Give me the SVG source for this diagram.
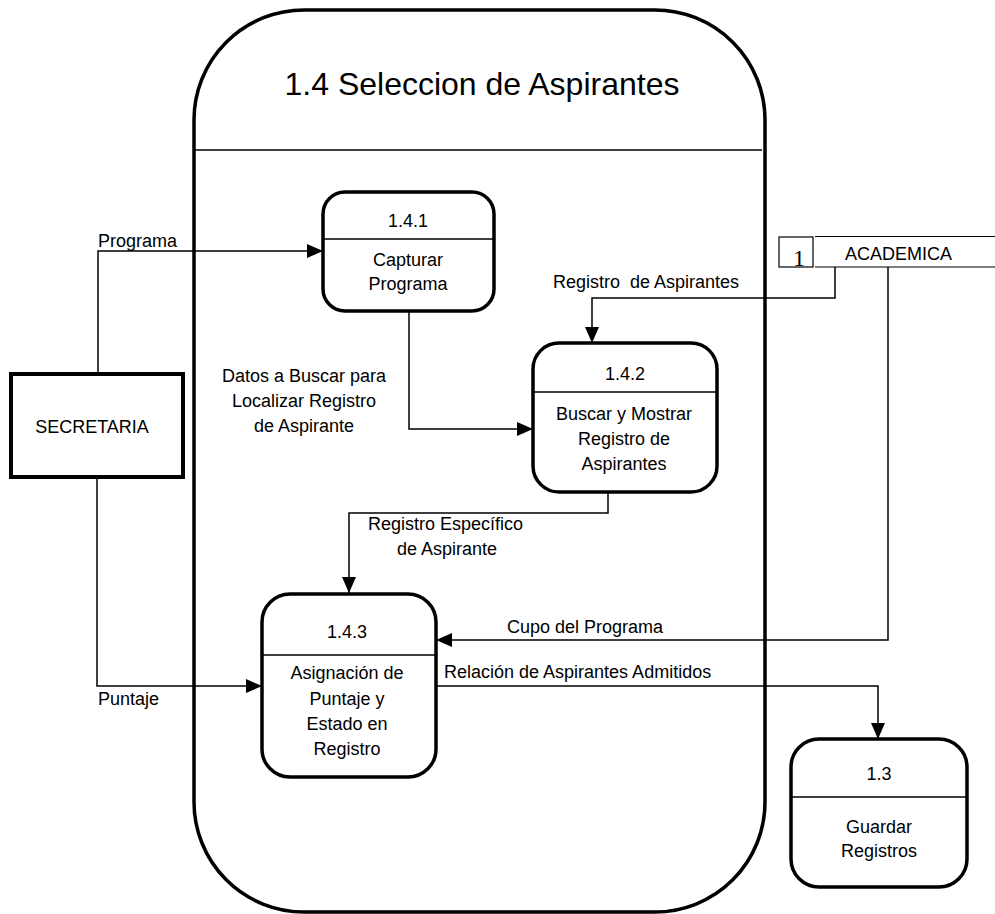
<svg xmlns="http://www.w3.org/2000/svg" width="995" height="914" viewBox="0 0 995 914">
<style>
text{font-family:"Liberation Sans",Arial,sans-serif;font-size:18px;fill:#000}
.c{text-anchor:middle}
.proc{fill:#fff;stroke:#000;stroke-width:3.5}
.div{stroke:#000;stroke-width:1.5}
.flow{fill:none;stroke:#000;stroke-width:1.5}
.store{fill:none;stroke:#000;stroke-width:1.2}
</style>
<defs>
<marker id="ah" markerWidth="16" markerHeight="14" refX="16" refY="7" orient="auto" markerUnits="userSpaceOnUse">
<path d="M0,0 L16,7 L0,14 Z" fill="#000"/>
</marker>
</defs>
<rect width="995" height="914" fill="#fff"/>
<g id="container">
<rect x="194" y="10" width="571" height="902" rx="110" ry="110" fill="#fff" stroke="#000" stroke-width="3.5"/>
<line x1="194" y1="150" x2="762" y2="150" class="div"/>
<text class="c" x="482" y="95" style="font-size:32px">1.4 Seleccion de Aspirantes</text>
</g>
<g id="connectors">
<path class="flow" d="M98,374 V251 H323" marker-end="url(#ah)"/>
<path class="flow" d="M409,311 V429 H533" marker-end="url(#ah)"/>
<path class="flow" d="M835,267 V298 H592 V343" marker-end="url(#ah)"/>
<path class="flow" d="M608,492 V513 H349 V593" marker-end="url(#ah)"/>
<path class="flow" d="M888,267 V640 H436" marker-end="url(#ah)"/>
<path class="flow" d="M97,477 V686 H262" marker-end="url(#ah)"/>
<path class="flow" d="M436,686 H878 V739" marker-end="url(#ah)"/>
<text x="98" y="247">Programa</text>
<text class="c" x="304" y="382">Datos a Buscar para</text>
<text class="c" x="304" y="407">Localizar Registro</text>
<text class="c" x="304" y="432">de Aspirante</text>
<text x="553" y="288" xml:space="preserve">Registro  de Aspirantes</text>
<text x="368" y="530">Registro Específico</text>
<text x="397" y="555">de Aspirante</text>
<text x="507" y="633">Cupo del Programa</text>
<text x="444" y="678">Relación de Aspirantes Admitidos</text>
<text x="98" y="705">Puntaje</text>
</g>
<g id="secretaria">
<rect x="11" y="374" width="172" height="103" fill="#fff" stroke="#000" stroke-width="4"/>
<text class="c" x="92" y="433">SECRETARIA</text>
</g>
<g id="academica">
<rect x="779" y="237" width="34" height="30" class="store"/>
<line x1="815" y1="236.5" x2="995" y2="236.5" class="store"/>
<line x1="815" y1="267" x2="995" y2="267" class="store"/>
<text x="793" y="266" style="font-family:'Liberation Serif','Times New Roman',serif;font-size:24px">1</text>
<text x="845" y="260">ACADEMICA</text>
</g>
<g id="p141">
<rect x="323" y="192" width="171" height="119" rx="22" class="proc"/>
<line x1="322" y1="239" x2="495" y2="239" class="div"/>
<text class="c" x="408" y="227">1.4.1</text>
<text class="c" x="408" y="266">Capturar</text>
<text class="c" x="408" y="290">Programa</text>
</g>
<g id="p142">
<rect x="533" y="343" width="184" height="149" rx="26" class="proc"/>
<line x1="532" y1="392" x2="718" y2="392" class="div"/>
<text class="c" x="625" y="380">1.4.2</text>
<text class="c" x="624" y="420">Buscar y Mostrar</text>
<text class="c" x="624" y="445">Registro de</text>
<text class="c" x="624" y="470">Aspirantes</text>
</g>
<g id="p143">
<rect x="262" y="594" width="174" height="183" rx="28" class="proc"/>
<line x1="261" y1="655" x2="437" y2="655" class="div"/>
<text class="c" x="347" y="638">1.4.3</text>
<text class="c" x="347" y="679">Asignación de</text>
<text class="c" x="347" y="705">Puntaje y</text>
<text class="c" x="347" y="730">Estado en</text>
<text class="c" x="347" y="755">Registro</text>
</g>
<g id="p13">
<rect x="791" y="739" width="176" height="148" rx="28" class="proc"/>
<line x1="790" y1="797" x2="968" y2="797" class="div"/>
<text class="c" x="879" y="780">1.3</text>
<text class="c" x="879" y="833">Guardar</text>
<text class="c" x="879" y="857">Registros</text>
</g>
</svg>
